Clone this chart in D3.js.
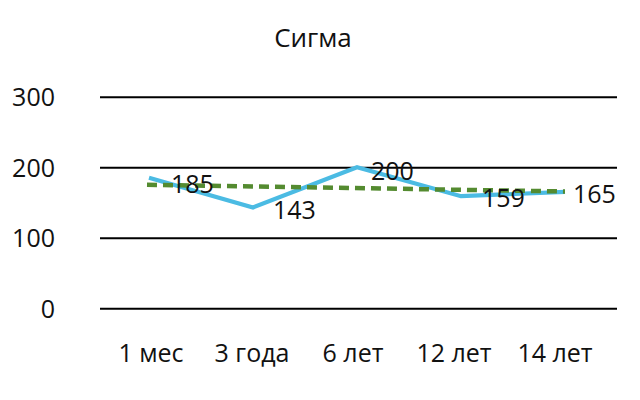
<!DOCTYPE html>
<html><head><meta charset="utf-8">
<script src="https://cdn.jsdelivr.net/npm/d3@7"></script>
<style>
body{margin:0;background:#fff;}
text{font-family:"Open Sans",sans-serif;fill:#111;}
</style></head>
<body><svg id="c" width="640" height="400"></svg>
<script>
const title = "Сигма";
const categories = ["1 мес","3 года","6 лет","12 лет","14 лет"];
const values = [185,143,200,159,165];
const trendValues = [175.2,165.6]; // linear trend at first and last category
const yTicks = [0,100,200,300];

// layout constants (label nudges, px)
const labelDx = [22,20,14,21,8];
const labelDy = [6,3,4,2,2];

const svg = d3.select("#c");
const x = d3.scaleBand().domain(categories).range([97,617]);
const cx = d => x(d) + x.bandwidth()/2;
const xl = d3.scaleBand().domain(categories).range([100.5,605.5]);
const y = d3.scaleLinear().domain([0,300]).range([308.3,96.7]);
const FS = 25;

svg.append("text").attr("x",313).attr("y",47).attr("text-anchor","middle")
  .attr("font-size",26).text(title);

// grid
const yAxis = d3.axisLeft(y).tickValues(yTicks).tickSize(-517);
const gy = svg.append("g").attr("transform","translate(100,0)").call(yAxis);
gy.select(".domain").remove();
gy.selectAll(".tick line").attr("stroke","#000").attr("stroke-width",2);
gy.selectAll(".tick text").attr("font-size",FS).attr("font-family","Open Sans").attr("fill","#111")
  .attr("text-anchor","end").attr("dy","0.36em").attr("x",-45);

// x axis labels
const xAxis = d3.axisBottom(xl).tickSize(0).tickPadding(0);
const gx = svg.append("g").attr("transform","translate(0,353)").call(xAxis);
gx.select(".domain").remove();
gx.selectAll(".tick text").attr("font-size",FS).attr("font-family","Open Sans").attr("fill","#111")
  .attr("dy","0.36em").attr("y",0);

// series line
const line = d3.line().x((d,i)=>cx(categories[i])).y(d=>y(d));
svg.append("path").datum(values).attr("d",line)
  .attr("fill","none").attr("stroke","#4bbbe3").attr("stroke-width",4.2).attr("stroke-linejoin","miter");

// trend line (drawn over the series)
svg.append("line")
  .attr("x1",cx(categories[0])-2).attr("y1",y(trendValues[0]))
  .attr("x2",cx(categories[categories.length-1])).attr("y2",y(trendValues[1]))
  .attr("stroke","#548b30").attr("stroke-width",4.5).attr("stroke-dasharray","10,6");

// labels
svg.selectAll("text.lbl").data(values).enter().append("text").attr("class","lbl")
  .attr("x",(d,i)=>cx(categories[i])+labelDx[i]).attr("y",(d,i)=>y(d)+labelDy[i])
  .attr("dy","0.36em").attr("font-size",FS).text(d=>d);
</script></body></html>
